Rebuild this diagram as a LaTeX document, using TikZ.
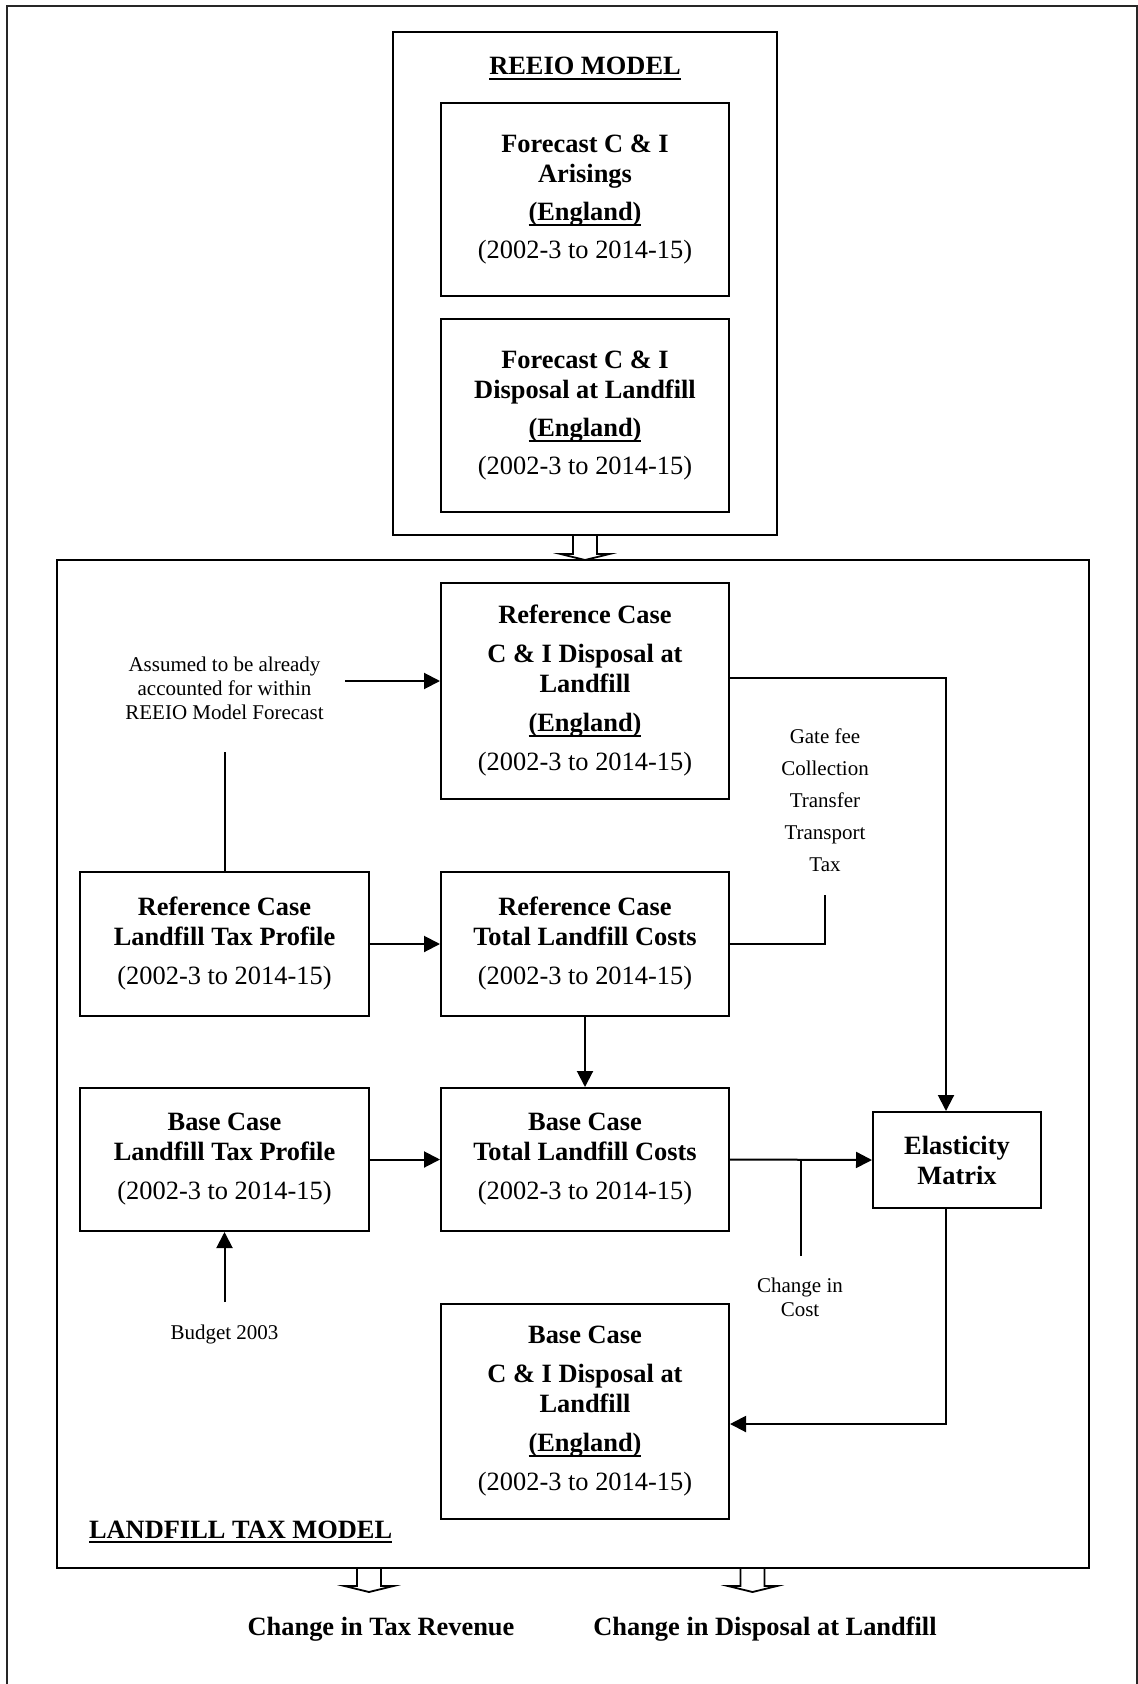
\documentclass[tikz,border=0pt]{standalone}
\usepackage{fontspec}
\setmainfont{Liberation Serif}
\usetikzlibrary{arrows.meta}

\newcommand{\mainsize}{\fontsize{13.2}{15}\selectfont}
\newcommand{\notesize}{\fontsize{10.5}{12}\selectfont}
% heavier underline, as in the bold headings
\newcommand{\heavyul}[1]{\setbox0\hbox{#1}\leavevmode\rlap{\rule[-2.6pt]{\wd0}{1pt}}\box0}

\tikzset{
  stagebox/.style={draw, line width=1pt, align=center, font=\mainsize, inner sep=0pt},
  modelbox/.style={draw, line width=1pt, inner sep=0pt},
  note/.style={align=center, font=\notesize, inner sep=0pt},
  flow/.style={line width=1pt, -{Triangle[length=8pt,width=8pt]}},
  link/.style={line width=1pt},
  pics/blockarrow/.style={code={
    \draw[line width=0.9pt, line join=miter] (-12,0) -- (-12,18) -- (-24.5,18) -- (0,24) -- (24.5,18) -- (12,18) -- (12,0);
  }}
}

\begin{document}
\begin{tikzpicture}[x=0.5pt, y=-0.5pt]
    \useasboundingbox (0,0) rectangle (1138,1684);

    % page frame, open at the bottom
    \draw[line width=1.2pt, black!85] (7,1684) -- (7,6) -- (1137,6) -- (1137,1684);

    % the two models
    \node[modelbox, minimum width=192pt, minimum height=251.5pt] (reeio) at (585,283.5) {};
    \node[modelbox, minimum width=516pt, minimum height=504pt] (ltm) at (573,1064) {};
    \node[anchor=base, font=\mainsize\bfseries] (reeiotitle) at (585,75) {\heavyul{REEIO MODEL}};
    \node[anchor=base west, font=\mainsize\bfseries] (ltmtitle) at (82,1538) {\heavyul{LANDFILL TAX MODEL}};

    % REEIO forecasts
    \node[stagebox, minimum width=144pt, minimum height=96.5pt] (forecastA) at (585,199.5)
        {\textbf{Forecast C \& I}\\\textbf{Arisings}\\[4pt]\textbf{\heavyul{(England)}}\\[4pt](2002-3 to 2014-15)};
    \node[stagebox, minimum width=144pt, minimum height=96.5pt] (forecastB) at (585,415.5)
        {\textbf{Forecast C \& I}\\\textbf{Disposal at Landfill}\\[4pt]\textbf{\heavyul{(England)}}\\[4pt](2002-3 to 2014-15)};

    % landfill tax model stages
    \node[stagebox, minimum width=144pt, minimum height=108pt] (refCI) at (585,691)
        {\textbf{Reference Case}\\[4.5pt]\textbf{C \& I Disposal at}\\\textbf{Landfill}\\[4.5pt]\textbf{\heavyul{(England)}}\\[4.5pt](2002-3 to 2014-15)};
    \node[stagebox, minimum width=144.5pt, minimum height=72pt] (refTax) at (224.5,944)
        {\textbf{Reference Case}\\\textbf{Landfill Tax Profile}\\[4.5pt](2002-3 to 2014-15)};
    \node[stagebox, minimum width=144pt, minimum height=72pt] (refCost) at (585,944)
        {\textbf{Reference Case}\\\textbf{Total Landfill Costs}\\[4.5pt](2002-3 to 2014-15)};
    \node[stagebox, minimum width=144.5pt, minimum height=71.5pt] (baseTax) at (224.5,1159.5)
        {\textbf{Base Case}\\\textbf{Landfill Tax Profile}\\[4.5pt](2002-3 to 2014-15)};
    \node[stagebox, minimum width=144pt, minimum height=71.5pt] (baseCost) at (585,1159.5)
        {\textbf{Base Case}\\\textbf{Total Landfill Costs}\\[4.5pt](2002-3 to 2014-15)};
    \node[stagebox, minimum width=84pt, minimum height=48pt] (elast) at (957,1160)
        {\textbf{Elasticity}\\\textbf{Matrix}};
    \node[stagebox, minimum width=144pt, minimum height=107.5pt] (baseCI) at (585,1411.5)
        {\textbf{Base Case}\\[4.5pt]\textbf{C \& I Disposal at}\\\textbf{Landfill}\\[4.5pt]\textbf{\heavyul{(England)}}\\[4.5pt](2002-3 to 2014-15)};

    % side notes
    \node[note] (assumed) at (224.5,688) {Assumed to be already\\accounted for within\\REEIO Model Forecast};
    \node[note, font=\fontsize{10.5}{16}\selectfont] (costitems) at (825,800) {Gate fee\\Collection\\Transfer\\Transport\\Tax};
    \node[note] (costchange) at (800,1297) {Change in\\Cost};
    \node[note] (budget) at (224.5,1334) {Budget 2003};

    \coordinate (assumedtail) at (345,681);
    \coordinate (assumedfoot) at (224.5,752);
    \coordinate (itemsfoot) at (825,895);
    \coordinate (costfoot) at (801,1256);
    \coordinate (budgettail) at (224.5,1302);

    % connectors
    \draw[flow] (assumedtail) -- (assumedtail -| refCI.west);
    \draw[link] (assumedfoot) -- (refTax.north);
    \draw[flow] ([yshift=6.5pt]refCI.east) -| ([xshift=-5.5pt]elast.north);
    \draw[flow] (refTax.east) -- (refCost.west);
    \draw[link] (refCost.east) -| (itemsfoot);
    \draw[flow] (refCost.south) -- (baseCost.north);
    \draw[flow] (baseTax.east) -- (baseCost.west);
    \draw[flow] (baseCost.east) -- (elast.west);
    \draw[link] (costfoot) -- (costfoot |- baseCost.east);
    \draw[flow] (budgettail) -- (baseTax.south);
    \draw[flow] ([xshift=-5.5pt]elast.south) |- ([yshift=-6.25pt]baseCI.east);

    % hollow arrows between models and to the results
    \pic at (reeio.south) {blockarrow};
    \pic at (369,1568) {blockarrow};
    \pic at (752.5,1568) {blockarrow};

    \node[anchor=base, font=\mainsize\bfseries] (taxrev) at (381,1635) {Change in Tax Revenue};
    \node[anchor=base, font=\mainsize\bfseries] (disposal) at (765,1635) {Change in Disposal at Landfill};
\end{tikzpicture}
\end{document}
